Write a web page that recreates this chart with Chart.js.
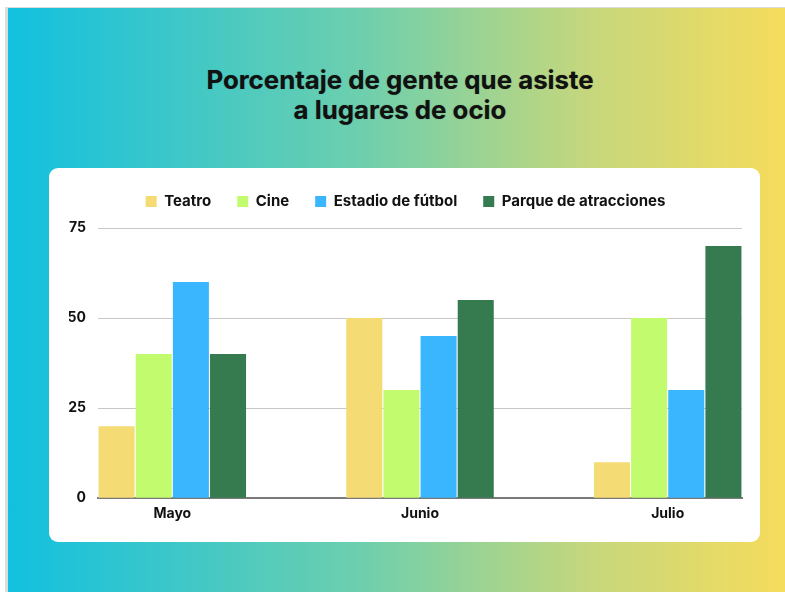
<!DOCTYPE html>
<html>
<head>
<meta charset="utf-8">
<script src="https://cdn.jsdelivr.net/npm/chart.js@4/dist/chart.umd.min.js"></script>
<style>
  html, body { margin: 0; padding: 0; background: #fff; }
  body { width: 785px; height: 592px; position: relative; overflow: hidden; font-family: Inter, sans-serif; }
  #bg {
    position: absolute; left: 5px; top: 7px; right: 0; bottom: 0;
    border-left: 3px solid #dcdcdc; border-top: 1px solid #dcdcdc;
    background: linear-gradient(to right, #12c0e0, #6ccfae 45%, #c6d77c 75%, #f6dc5c);
  }
  #title {
    position: absolute; left: 0; width: 800px; top: 65px;
    text-align: center; font-weight: 700; font-size: 25.8px; line-height: 30px;
    color: #111; text-shadow: 0 0 1px rgba(0,0,0,0.4);
  }
  #card {
    position: absolute; left: 49px; top: 168px; width: 711px; height: 374px;
    background: #fff; border-radius: 9px;
  }
  #card canvas { position: absolute; left: 0; top: 0; }
</style>
</head>
<body>
<div id="bg"></div>
<div id="title">Porcentaje de gente que asiste<br>a lugares de ocio</div>
<div id="card"><canvas id="chart" width="711" height="374"></canvas></div>
<script>
const categories = ["Mayo", "Junio", "Julio"];
const seriesNames = ["Teatro", "Cine", "Estadio de fútbol", "Parque de atracciones"];
const teatro = [20, 50, 10];
const cine = [40, 30, 50];
const estadio = [60, 45, 30];
const parque = [40, 55, 70];
const yTicks = [0, 25, 50, 75];

const colors = ["#f4db74", "#c3fb6e", "#39b6fe", "#367a4f"];
const allValues = [teatro, cine, estadio, parque];

// legend needs a bit more room below it
const legendGap = {
    id: "legendGap",
    beforeInit(chart) {
        const fit = chart.legend.fit;
        chart.legend.fit = function () {
            fit.call(this);
            this.height += 9;
        };
    }
};

const ctx = document.getElementById("chart").getContext("2d");
new Chart(ctx, {
    type: "bar",
    data: {
        datasets: allValues.map((vals, i) => ({
            label: seriesNames[i],
            data: vals.map((v, j) => ({ x: j, y: v })),
            backgroundColor: colors[i],
            categoryPercentage: 0.6,
            barPercentage: 0.97
        }))
    },
    options: {
        responsive: false,
        animation: false,
        layout: { padding: { top: 0, right: 18, bottom: 13, left: 20 } },
        plugins: {
            legend: {
                position: "top",
                labels: {
                    boxWidth: 11,
                    boxHeight: 11,
                    padding: 26,
                    color: "#111",
                    font: { family: "Inter", size: 15, weight: "bold" }
                }
            },
            tooltip: { enabled: false }
        },
        scales: {
            x: {
                type: "linear",
                offset: false,
                min: -0.3,
                max: categories.length - 0.7,
                afterBuildTicks: s => { s.ticks = categories.map((_, i) => ({ value: i })); },
                grid: { display: false, drawTicks: false, offset: false },
                border: { display: true, color: "#7a7a7a", width: 2 },
                ticks: {
                    padding: 7,
                    color: "#111",
                    font: { family: "Inter", size: 14, weight: "bold" },
                    callback: v => categories[v]
                }
            },
            y: {
                min: 0,
                max: 75,
                afterBuildTicks: s => { s.ticks = yTicks.map(v => ({ value: v })); },
                afterFit: s => { s.width = 29; },
                grid: { color: "#c8c8c8", drawTicks: false, lineWidth: 1 },
                border: { display: false },
                ticks: {
                    padding: 12,
                    color: "#111",
                    font: { family: "Inter", size: 14, weight: "bold" }
                }
            }
        }
    },
    plugins: [legendGap]
});
</script>
</body>
</html>
